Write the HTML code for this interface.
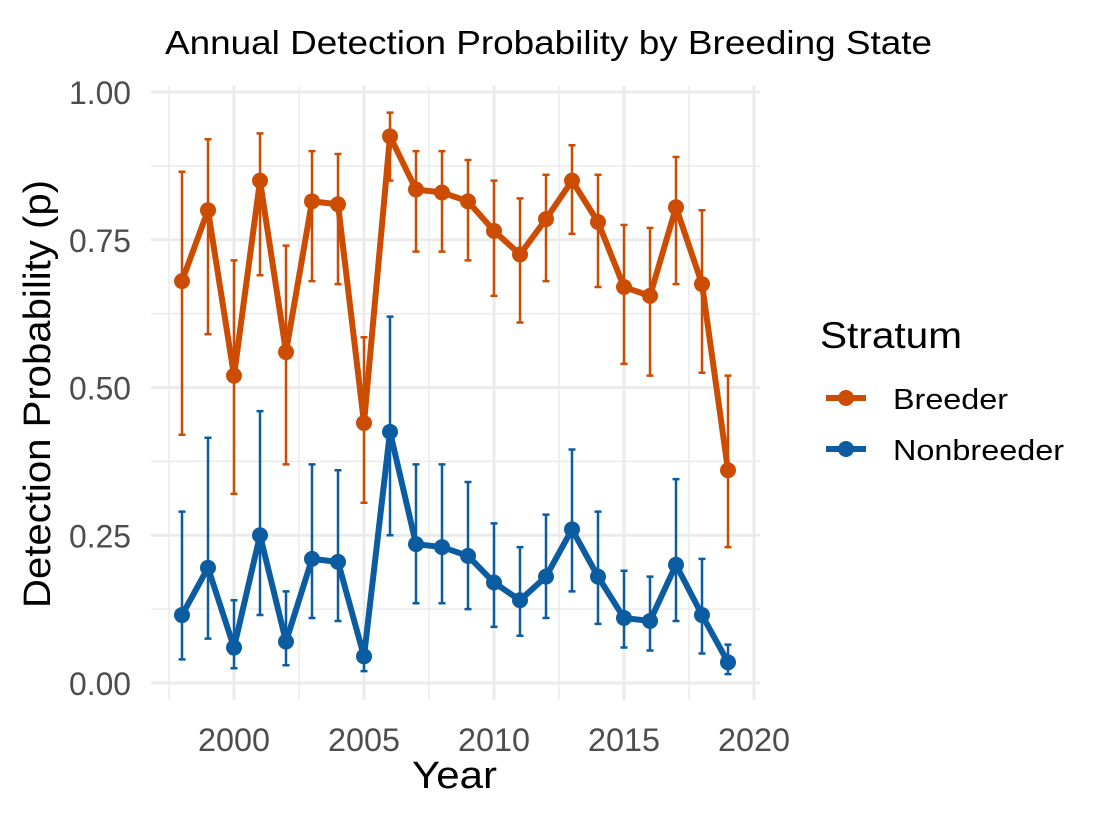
<!DOCTYPE html>
<html><head><meta charset="utf-8"><style>
body{margin:0;background:#fff;}
svg{display:block;font-family:"Liberation Sans",sans-serif;}
</style></head><body>
<svg id="chart" width="1106" height="818">
<text x="165" y="54" font-size="33" textLength="767" lengthAdjust="spacingAndGlyphs" fill="#000">Annual Detection Probability by Breeding State</text>
<g id="grid"></g>
<g id="axes"></g>
<g id="series"></g>
<text x="412" y="788" font-size="38" textLength="85" lengthAdjust="spacingAndGlyphs">Year</text>
<text transform="translate(50,608) rotate(-90)" font-size="38" textLength="428" lengthAdjust="spacingAndGlyphs">Detection Probability (p)</text>
<g>
<text x="820" y="348" font-size="37" textLength="142" lengthAdjust="spacingAndGlyphs">Stratum</text>
<g>
<line x1="826" y1="398" x2="866" y2="398" stroke="#CC4C02" stroke-width="6"/><circle cx="846" cy="398" r="8" fill="#CC4C02"/>
<text x="893" y="409" font-size="29" textLength="115" lengthAdjust="spacingAndGlyphs">Breeder</text></g>
<g>
<line x1="826" y1="449" x2="866" y2="449" stroke="#0B5CA0" stroke-width="6"/><circle cx="846" cy="449" r="8" fill="#0B5CA0"/>
<text x="893" y="460" font-size="29" textLength="171" lengthAdjust="spacingAndGlyphs">Nonbreeder</text></g>
</g>
</svg>
<script>
const years=[1998,1999,2000,2001,2002,2003,2004,2005,2006,2007,2008,2009,2010,2011,2012,2013,2014,2015,2016,2017,2018,2019];
const breederEst=[.68,.80,.52,.85,.56,.815,.81,.44,.925,.835,.83,.815,.765,.725,.785,.85,.78,.67,.655,.805,.675,.36];
const breederLo=[.42,.59,.32,.69,.37,.68,.675,.305,.85,.73,.73,.715,.655,.61,.68,.76,.67,.54,.52,.675,.525,.23];
const breederHi=[.865,.92,.715,.93,.74,.90,.895,.585,.965,.90,.90,.885,.85,.82,.86,.91,.86,.775,.77,.89,.80,.52];
const nonEst=[.115,.195,.06,.25,.07,.21,.205,.045,.425,.235,.23,.215,.17,.14,.18,.26,.18,.11,.105,.20,.115,.035];
const nonLo=[.04,.075,.025,.115,.03,.11,.105,.02,.25,.135,.135,.125,.095,.08,.11,.155,.10,.06,.055,.105,.05,.015];
const nonHi=[.29,.415,.14,.46,.155,.37,.36,.07,.62,.37,.37,.34,.27,.23,.285,.395,.29,.19,.18,.345,.21,.065];
const xTicks=[2000,2005,2010,2015,2020];
const yTicks=[0,0.25,0.5,0.75,1];
const yLabels=["0.00","0.25","0.50","0.75","1.00"];
const NS="http://www.w3.org/2000/svg";
const X=v=>234+(v-2000)*26;
const Y=v=>683-v*591;
function mk(tag,attrs,parent){const e=document.createElementNS(NS,tag);for(const k in attrs)e.setAttribute(k,attrs[k]);parent.appendChild(e);return e;}
const grid=document.getElementById('grid'),axes=document.getElementById('axes'),series=document.getElementById('series');
for(let v=1997.5;v<=2020;v+=2.5){const major=v%5===0;
 const l=mk('line',{x1:X(v),x2:X(v),y1:86,y2:700,stroke:'#EBEBEB','stroke-width':major?3:1.5},grid);
 
 }
for(let v=0;v<=1.0001;v+=0.125){const major=Math.abs(v*4-Math.round(v*4))<1e-6;
 const l=mk('line',{x1:151,x2:760,y1:Y(v),y2:Y(v),stroke:'#EBEBEB','stroke-width':major?3:1.5},grid);
 
 }
xTicks.forEach(t=>{const e=mk('text',{x:X(t)-36,y:751,'font-size':32,textLength:72,lengthAdjust:'spacingAndGlyphs',fill:'#4D4D4D'},axes);e.textContent=t;
 
 });
yTicks.forEach((t,i)=>{const e=mk('text',{x:69,y:Y(t)+12,'font-size':32,textLength:62,lengthAdjust:'spacingAndGlyphs',fill:'#4D4D4D'},axes);e.textContent=yLabels[i];
 
 });
function draw(est,lo,hi,color,name){
 const g=mk('g',{},series);
 
 
 years.forEach((yr,i)=>{const x=X(yr);
  const eb=mk('path',{d:`M${x},${Y(lo[i])}V${Y(hi[i])}M${x-3.5},${Y(lo[i])}h7M${x-3.5},${Y(hi[i])}h7`,stroke:color,'stroke-width':2.5,fill:'none'},g);
  
  });
 const ln=mk('polyline',{points:years.map((yr,i)=>X(yr)+','+Y(est[i])).join(' '),stroke:color,'stroke-width':6,fill:'none','stroke-linejoin':'round'},g);
 
 
 years.forEach((yr,i)=>{const c=mk('circle',{cx:X(yr),cy:Y(est[i]),r:8,fill:color},g);
  
  });
}
draw(breederEst,breederLo,breederHi,'#CC4C02','breeder');
draw(nonEst,nonLo,nonHi,'#0B5CA0','nonbreeder');
</script>
</body></html>
